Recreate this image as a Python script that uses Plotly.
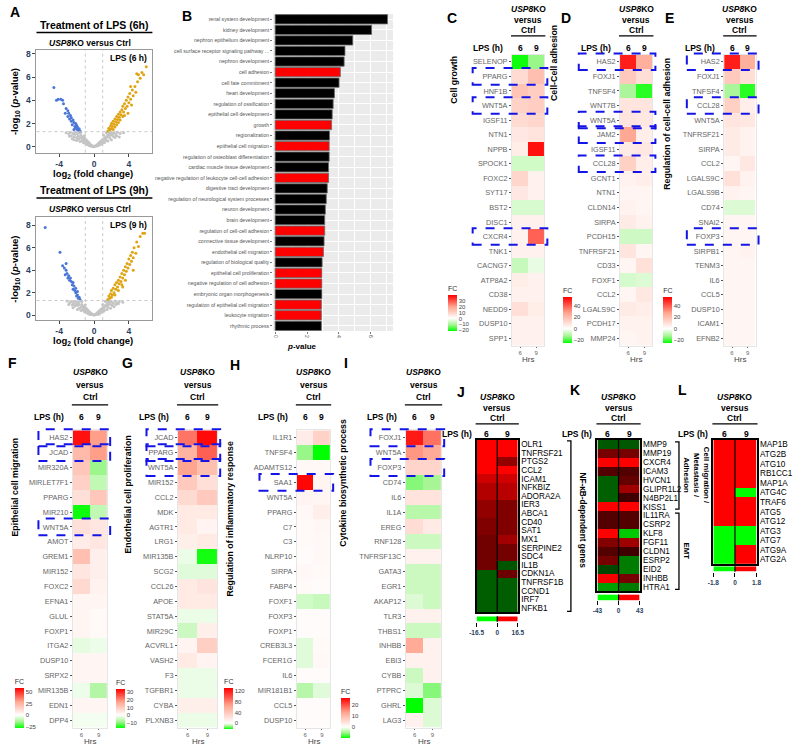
import plotly.graph_objects as go

W, H = 796, 749
FONT = "Arial, Liberation Sans, sans-serif"

# ---------------- Panel A: volcano points (log2 fold change, -log10 p) ----------------
A6_GREY = [(-3.2, 1.2), (-2.9, 1.1), (-2.7, 1.25), (-2.6, 0.95), (-2.4, 1.15), (-2.3, 0.85), (-2.2, 1.05),
           (-2.1, 1.25), (-2.0, 0.8), (-1.9, 1.1), (-1.8, 0.9), (-1.7, 1.2), (-1.6, 0.75), (-1.5, 1.0),
           (-1.4, 0.85), (-1.3, 0.65), (-1.2, 0.8), (-1.1, 0.55), (-1.0, 0.7), (-0.9, 0.45), (-0.8, 0.55),
           (-0.7, 0.35), (-0.6, 0.4), (-0.5, 0.25), (-0.4, 0.2), (-0.3, 0.12), (-0.2, 0.08), (-0.1, 0.03),
           (0.0, 0.01), (0.1, 0.04), (0.2, 0.08), (0.3, 0.14), (0.4, 0.2), (0.5, 0.28), (0.6, 0.35),
           (0.7, 0.42), (0.8, 0.5), (0.9, 0.48), (1.0, 0.62), (1.1, 0.6), (1.2, 0.72), (1.3, 0.8),
           (1.4, 0.78), (1.5, 0.95), (1.6, 0.9), (1.7, 1.05), (1.8, 1.15), (1.9, 1.0), (2.0, 1.25),
           (2.1, 1.1), (2.3, 1.2), (2.5, 1.05), (2.7, 1.25), (3.0, 1.15), (3.4, 1.2), (-2.0, 0.55),
           (-1.6, 0.45), (-1.2, 0.35), (-0.8, 0.2), (0.8, 0.22), (1.2, 0.38), (1.6, 0.5), (2.0, 0.6),
           (2.4, 0.8), (-2.5, 0.7), (1.4, 1.2), (-2.8, 0.9), (-2.3, 0.6), (-1.8, 0.65), (-1.4, 0.5),
           (-1.0, 0.3), (-0.6, 0.15), (-0.3, 0.05), (0.3, 0.06), (0.6, 0.18), (1.0, 0.33), (1.4, 0.55),
           (1.8, 0.75), (2.2, 0.9), (2.6, 0.95), (2.9, 0.85), (-1.5, 1.25), (-1.1, 0.95), (1.1, 1.0),
           (1.6, 1.25), (-0.5, 0.1), (0.5, 0.12)]
A6_DOWN = [(-1.6, 1.35), (-1.7, 1.55), (-1.8, 1.42), (-1.9, 1.7), (-1.9, 1.5), (-2.0, 1.85), (-2.1, 1.6),
           (-2.1, 2.0), (-2.2, 1.75), (-2.3, 2.1), (-2.3, 1.5), (-2.4, 2.3), (-2.5, 1.9), (-2.6, 2.5),
           (-2.6, 2.2), (-2.7, 2.7), (-2.8, 2.4), (-2.9, 2.9), (-3.0, 2.6), (-3.0, 3.1), (-3.2, 3.3),
           (-3.3, 2.9), (-3.5, 3.7), (-3.6, 4.0), (-3.8, 4.1), (-4.1, 4.1), (-4.3, 4.0), (-4.6, 5.1)]
A6_UP = [(1.6, 1.35), (1.7, 1.6), (1.8, 1.45), (1.9, 1.8), (2.0, 1.55), (2.0, 2.0), (2.1, 1.75), (2.2, 2.2),
         (2.2, 1.5), (2.3, 1.95), (2.4, 2.4), (2.4, 1.7), (2.5, 2.15), (2.6, 2.6), (2.6, 1.9), (2.7, 2.35),
         (2.8, 2.8), (2.8, 2.1), (2.9, 2.55), (3.0, 3.0), (3.0, 2.3), (3.1, 2.75), (3.2, 3.2), (3.3, 2.6),
         (3.3, 3.5), (3.4, 3.0), (3.5, 3.7), (3.5, 2.7), (3.6, 3.3), (3.7, 4.0), (3.8, 3.5), (3.9, 4.3),
         (4.0, 3.8), (4.1, 4.6), (4.2, 4.1), (4.3, 3.6), (4.4, 4.9), (4.5, 4.4), (4.7, 5.2), (4.8, 4.7),
         (5.0, 5.6), (5.1, 6.2), (5.3, 5.9), (5.5, 6.4), (5.7, 6.2), (6.0, 6.9), (4.9, 6.3), (4.2, 5.2),
         (3.9, 2.9)]
A9_GREY = [(-3.1, 1.25), (-2.8, 1.1), (-2.6, 1.2), (-2.5, 0.9), (-2.3, 1.2), (-2.2, 0.8), (-2.1, 1.0),
           (-2.0, 1.2), (-1.9, 0.85), (-1.8, 1.1), (-1.7, 0.95), (-1.6, 1.25), (-1.5, 0.7), (-1.4, 0.95),
           (-1.3, 0.8), (-1.2, 0.6), (-1.1, 0.7), (-1.0, 0.5), (-0.9, 0.6), (-0.8, 0.4), (-0.7, 0.45),
           (-0.6, 0.3), (-0.5, 0.28), (-0.4, 0.18), (-0.3, 0.14), (-0.2, 0.07), (-0.1, 0.02), (0.0, 0.01),
           (0.1, 0.03), (0.2, 0.09), (0.3, 0.13), (0.4, 0.22), (0.5, 0.25), (0.6, 0.38), (0.7, 0.4),
           (0.8, 0.52), (0.9, 0.5), (1.0, 0.65), (1.1, 0.62), (1.2, 0.75), (1.3, 0.85), (1.4, 0.8),
           (1.5, 1.0), (1.6, 0.92), (1.7, 1.1), (1.8, 1.2), (1.9, 0.95), (2.0, 1.2), (2.2, 1.05),
           (2.4, 1.25), (2.6, 1.1), (2.9, 1.2), (3.3, 1.15), (-1.9, 0.5), (-1.5, 0.4), (-1.1, 0.3),
           (-0.7, 0.15), (0.7, 0.2), (1.1, 0.35), (1.5, 0.5), (1.9, 0.62), (2.3, 0.75), (-2.4, 0.65),
           (1.3, 1.2), (-2.9, 0.95), (-2.4, 1.0), (-1.7, 0.6), (-1.3, 0.45), (-0.9, 0.25), (-0.5, 0.08),
           (0.4, 0.06), (0.8, 0.25), (1.2, 0.45), (1.6, 0.7), (2.1, 0.85), (2.5, 0.95), (2.8, 1.0),
           (-1.4, 1.2), (-1.0, 0.9), (1.0, 0.95), (1.5, 1.25), (-0.4, 0.05), (0.6, 0.1)]
A9_DOWN = [(-1.6, 1.4), (-1.7, 1.6), (-1.8, 1.5), (-1.9, 1.8), (-1.9, 2.1), (-2.0, 1.7), (-2.1, 2.0),
           (-2.1, 2.4), (-2.2, 2.2), (-2.3, 2.6), (-2.4, 2.3), (-2.4, 2.9), (-2.5, 2.7), (-2.6, 3.0),
           (-2.7, 3.3), (-2.8, 3.1), (-2.9, 3.5), (-3.0, 3.3), (-3.1, 3.7), (-3.2, 4.0), (-3.3, 3.6),
           (-3.4, 4.2), (-3.6, 4.4), (-3.9, 5.6), (-3.2, 4.6), (-5.6, 7.8)]
A9_UP = [(1.6, 1.4), (1.7, 1.7), (1.8, 1.5), (1.9, 1.9), (2.0, 1.6), (2.0, 2.2), (2.1, 1.8), (2.2, 2.4),
         (2.3, 2.0), (2.4, 2.7), (2.4, 1.8), (2.5, 2.3), (2.6, 2.9), (2.7, 2.5), (2.8, 3.1), (2.8, 2.2),
         (2.9, 2.8), (3.0, 3.4), (3.1, 3.0), (3.2, 3.7), (3.2, 2.7), (3.3, 3.3), (3.4, 4.0), (3.5, 3.6),
         (3.6, 4.3), (3.6, 3.1), (3.7, 3.9), (3.8, 4.6), (3.9, 4.2), (4.0, 5.0), (4.1, 4.5), (4.2, 5.3),
         (4.3, 4.8), (4.4, 5.6), (4.5, 5.1), (4.6, 6.0), (4.8, 5.5), (4.9, 6.5), (5.1, 6.1), (5.3, 7.0),
         (5.6, 7.3), (5.8, 7.3), (4.5, 4.0), (3.3, 2.5)]

# ---------------- Panel B: enriched GO terms ----------------
B_TERMS = ["renal system development", "kidney development", "nephron epithelium development",
           "cell surface receptor signaling pathway ...", "nephron development", "cell adhesion",
           "cell fate commitment", "heart development", "regulation of ossification",
           "epithelial cell development", "growth", "regionalization", "epithelial cell migration",
           "regulation of osteoblast differentiation", "cardiac muscle tissue development",
           "negative regulation of leukocyte cell-cell adhesion", "digestive tract development",
           "regulation of neurological system processes", "neuron development", "brain development",
           "regulation of cell-cell adhesion", "connective tissue development", "endothelial cell migration",
           "regulation of biological quality", "epithelial cell proliferation",
           "negative regulation of cell adhesion", "embryonic organ morphogenesis",
           "regulation of epithelial cell migration", "leukocyte migration", "rhythmic process"]
B_SCORE = [7.05, 6.05, 4.87, 4.38, 4.33, 4.09, 4.01, 3.72, 3.64, 3.58, 3.54, 3.41, 3.39, 3.39, 3.35,
           3.35, 3.27, 3.21, 3.15, 3.11, 3.11, 3.07, 3.03, 2.95, 2.93, 2.93, 2.93, 2.9, 2.9, 2.9]
B_HIGHLIGHT = ["cell adhesion", "growth", "epithelial cell migration",
               "negative regulation of leukocyte cell-cell adhesion", "regulation of cell-cell adhesion",
               "endothelial cell migration", "epithelial cell proliferation",
               "negative regulation of cell adhesion", "regulation of epithelial cell migration",
               "leukocyte migration"]

# ---------------- Panels C-I: fold change heatmaps (6 h, 9 h) ----------------
HOURS = ["6", "9"]

C_GENES = ["SELENOP", "PPARG", "HNF1B", "WNT5A", "IGSF11", "NTN1", "NPPB", "SPOCK1", "FOXC2", "SYT17",
           "BST2", "DISC1", "CXCR4", "TNK1", "CACNG7", "ATP8A2", "CD38", "NEDD9", "DUSP10", "SPP1"]
C_FC6 = [-21, 8, 13, 10, 8, 5, 4, -6, 9, 5, -5, 3, 3, 3, -7, 4, 3, 7, 3, 3]
C_FC9 = [-12, 14, 11, 11, 9, 6, 38, -6, 3, 3, -5, 3, 28, 3, -3, 3, 3, 4, 3, 3]
C_BOXED = ["PPARG", "WNT5A", "CXCR4"]

D_GENES = ["HAS2", "FOXJ1", "TNFSF4", "WNT7B", "WNT5A", "JAM2", "IGSF11", "CCL28", "GCNT1", "NTN1",
           "CLDN14", "SIRPA", "PCDH15", "TNFRSF21", "CD33", "FOXF1", "CCL2", "LGALS9C", "PCDH17", "MMP24"]
D_FC6 = [50, 16, -12, 8, 8, 26, 6, 14, 4, 3, 4, 6, -7, 8, 3, -6, 3, 6, 4, 3]
D_FC9 = [24, 10, -22, 8, 7, 5, 7, 5, 5, 3, 3, 4, -7, 3, 9, -5, 7, 5, 4, 4]
D_BOXED = ["HAS2", "WNT5A", "JAM2", "CCL28"]

E_GENES = ["HAS2", "FOXJ1", "TNFSF4", "CCL28", "WNT5A", "TNFRSF21", "SIRPA", "CCL2", "LGALS9C", "LGALS9B",
           "CD74", "SNAI2", "FOXP3", "SIRPB1", "TENM3", "IL6", "CCL5", "DUSP10", "ICAM1", "EFNB2"]
E_FC6 = [50, 16, -12, 14, 8, 6, 6, 3, 9, 4, -5, 3, 3, 3, 3, 3, 3, 3, 3, 3]
E_FC9 = [24, 10, -22, 5, 7, 4, 4, 7, 4, 3, -5, 3, 3, 4, 3, 3, 3, 3, 3, 3]
E_BOXED = ["HAS2", "CCL28", "FOXP3"]

F_GENES = ["HAS2", "JCAD", "MIR320A", "MIRLET7F1", "PPARG", "MIR210", "WNT5A", "AMOT", "GREM1", "MIR152",
           "FOXC2", "EFNA1", "GLUL", "FOXP1", "ITGA2", "DUSP10", "SRPX2", "MIR135B", "EDN1", "DPP4"]
F_FC6 = [55, 22, 18, 15, 10, -27, 10, 6, 20, 8, 12, 3, 3, 3, -4, 3, 3, -3, 3, -2]
F_FC9 = [30, 30, -15, -10, 18, -10, 8, 8, 5, 5, 4, 3, 2, 2, -3, 3, 3, -12, 3, -2]
F_BOXED = ["HAS2", "JCAD", "WNT5A"]

G_GENES = ["JCAD", "PPARG", "WNT5A", "MIR152", "CCL2", "MDK", "AGTR1", "LRG1", "MIR135B", "SCG2", "CCL26",
           "APOE", "STAT5A", "MIR29C", "ACVRL1", "VASH2", "F3", "TGFBR1", "CYBA", "PLXNB3"]
G_FC6 = [22, 14, 17, 10, 7, 4, 4, 3, -2, -3, 4, 4, -2, -5, 2, 4, -2, -2, 3, -2]
G_FC9 = [33, 24, 12, 6, 10, 4, 2, 4, -16, -3, 5, 4, -2, 3, 9, 2, -2, -2, 3, -2]
G_BOXED = ["JCAD", "PPARG", "WNT5A"]

H_GENES = ["IL1R1", "TNFSF4", "ADAMTS12", "SAA1", "WNT5A", "PPARG", "C7", "C3", "NLRP10", "SIRPA", "FABP4",
           "FOXF1", "FOXP3", "FOXP1", "CREB3L3", "FCER1G", "IL6", "MIR181B1", "CCL5", "DUSP10"]
H_FC6 = [14, -12, 5, 128, 8, 5, 4, 4, 3, 5, 4, -6, 3, 3, -4, -4, 3, -9, 3, 3]
H_FC9 = [32, -22, 5, 8, 7, 12, 6, 5, 5, 4, 3, -7, 3, 3, 4, 5, 3, -4, 3, 3]
H_BOXED = ["SAA1"]

I_GENES = ["FOXJ1", "WNT5A", "FOXP3", "CD74", "IL6", "IL1A", "EREG", "RNF128", "TNFRSF13C", "GATA3", "EGR1",
           "AKAP12", "TLR3", "THBS1", "INHBB", "EBI3", "CYBB", "PTPRC", "GHRL", "LAG3"]
I_FC6 = [24, 14, 6, -6, 4, -4, 5, -3, 2, -3, -3, -2, 2, -3, 12, 2, -3, -2, -10, 2]
I_FC9 = [17, 12, 6, -5, 4, -4, 3, -3, 2, -3, -3, -3, 2, -3, 2, 2, 2, -6, -2, -2]
I_BOXED = ["FOXJ1", "FOXP3"]

# ---------------- Panels J-L: microarray style heatmaps ----------------
J_GENES = ["OLR1", "TNFRSF21", "PTGS2", "CCL2", "ICAM1", "NFKBIZ", "ADORA2A", "IER3", "ABCA1", "CD40",
           "SAT1", "MX1", "SERPINE2", "SDC4", "IL1B", "CDKN1A", "TNFRSF1B", "CCND1", "IRF7", "NFKB1"]
J_FC6 = [16.5, 16.5, 16.5, 16.5, 13.5, 11.5, 11.5, 9.5, 9.5, 8.3, 8.3, 7.3, 7.3, 7.3, 7.3, -6, -6, -6, -6, -6]
J_FC9 = [16.5, 16.5, 9.5, 16.5, 13.5, 12, 12, 8.3, 8.3, 8.3, 8.3, 10.5, 7.5, 7.5, -5.5, 7, -6, -6, -6, -6]
J_LIMIT = 16.5

K_GENES = ["MMP9", "MMP19", "CXCR4", "ICAM3", "HVCN1", "GLIPR1L2", "N4BP2L1", "KISS1", "IL11RA", "CSRP2",
           "KLF8", "FGF11", "CLDN1", "ESRP2", "EID2", "INHBB", "HTRA1"]
K_FC6 = [-15, 20, 43, 14, -16, -16, -16, 43, 14, 14, 43, 22, 14, 20, -12, 42, -27]
K_FC9 = [-15, 20, 43, 14, 17, 27, 11, 43, 14, 14, -34, 27, 11, -21, -21, 20, -21]
K_LIMIT = 43
K_GROUPS = [("Cell migration /<br>Metastasis /<br>Adhesion", 0, 7), ("EMT", 8, 16)]

L_GENES = ["MAP1B", "ATG2B", "ATG10", "RB1CC1", "MAP1A", "ATG4C", "TRAF6", "ATG5", "ATG12", "ATG3", "ATG7",
           "ATG9A", "ATG2A"]
L_FC6 = [1.8, 1.8, 1.8, 1.8, 1.8, 1.8, 1.8, 1.8, 1.8, -1.8, -1.8, -1.8, -1.8]
L_FC9 = [1.8, 1.8, 1.8, 1.8, 1.8, -1.8, 1.8, 1.8, 1.8, -1.8, -1.8, 1.8, 1.8]
L_LIMIT = 1.8


def fx(x):
    return x / W


def fy(y):
    return 1 - y / H


def ax(n):
    # plotly names the first axis pair "x"/"y", not "x1"/"y1"
    return ("x", "y") if n == 1 else ("x%d" % n, "y%d" % n)


fig = go.Figure()
layout = {}
annotations = []
shapes = []


def text(x, y, s, size=9, color="black", angle=0, xanchor="center", yanchor="middle"):
    annotations.append(dict(x=fx(x), y=fy(y), xref="paper", yref="paper", text=s, showarrow=False,
                            textangle=angle, xanchor=xanchor, yanchor=yanchor,
                            font=dict(size=size, color=color, family=FONT)))


def hline(x0, x1, y, width=1.5, color="black"):
    shapes.append(dict(type="line", xref="paper", yref="paper", x0=fx(x0), x1=fx(x1), y0=fy(y), y1=fy(y),
                       line=dict(color=color, width=width)))


USP8 = "<b><i>USP8</i>KO</b>"


# ---------------- A: volcano plots ----------------
def volcano(n, grey, down, up, top, bottom, yrange, label):
    xa, ya = ax(n)
    for pts, col in ((grey, "#c4c4c4"), (down, "#4a76d6"), (up, "#dfa414")):
        fig.add_trace(go.Scatter(x=[p[0] for p in pts], y=[p[1] for p in pts], mode="markers",
                                 marker=dict(size=3, color=col), xaxis=xa, yaxis=ya, hoverinfo="skip"))
    key = "" if n == 1 else str(n)
    layout["xaxis" + key] = dict(domain=[fx(30), fx(148)], anchor=ya, range=[-6.6, 6.7], tickvals=[-4, 0, 4],
                                 ticktext=["<b>-4</b>", "<b>0</b>", "<b>4</b>"], ticks="outside", ticklen=3,
                                 tickfont=dict(size=8.5, family=FONT), showline=True, mirror=True,
                                 linecolor="#999", zeroline=False, showgrid=False)
    layout["yaxis" + key] = dict(domain=[fy(bottom), fy(top)], anchor=xa, range=yrange, tickvals=[0, 2, 4, 6, 8],
                                 ticktext=["<b>%d</b>" % v for v in (0, 2, 4, 6, 8)], ticks="outside", ticklen=3,
                                 tickfont=dict(size=8.5, family=FONT), showline=True, mirror=True,
                                 linecolor="#999", zeroline=False, showgrid=False)
    for xv in (-1, 1):
        shapes.append(dict(type="line", xref=xa, yref=ya + " domain", x0=xv, x1=xv, y0=0, y1=1,
                           line=dict(color="#c8c8c8", width=1, dash="dot")))
    shapes.append(dict(type="line", xref=xa + " domain", yref=ya, x0=0, x1=1, y0=1.3, y1=1.3,
                       line=dict(color="#c8c8c8", width=1, dash="dot")))
    text(145, top + 8, "<b>%s</b>" % label, size=8.5, xanchor="right")
    text(88, bottom + 21, "<b>log<sub>2</sub> (fold change)</b>", size=9.5)
    text(8, (top + bottom) / 2, "<b>-log<sub>10</sub> (<i>p</i>-value)</b>", size=9.5, angle=-90)


volcano(1, A6_GREY, A6_DOWN, A6_UP, 49, 152, [-0.5, 8.35], "LPS (6 h)")
volcano(2, A9_GREY, A9_DOWN, A9_UP, 217, 320, [-0.45, 8.7], "LPS (9 h)")
text(89, 24, "<b>Treatment of LPS (6h)</b>", size=10.5)
hline(30, 148, 31.5)
text(84, 42, USP8 + "<b> versus Ctrl</b>", size=8.5)
text(89, 190, "<b>Treatment of LPS (9h)</b>", size=10.5)
hline(30, 148, 197.5)
text(84, 209, USP8 + "<b> versus Ctrl</b>", size=8.5)
text(8, 11, "<b>A</b>", size=14)

# ---------------- B: GO bar chart ----------------
fig.add_trace(go.Bar(y=B_TERMS, x=B_SCORE, orientation="h", xaxis="x3", yaxis="y3",
                     marker=dict(color=["#ff0000" if t in B_HIGHLIGHT else "#000000" for t in B_TERMS],
                                 line=dict(color="#6a6a6a", width=0.8)), hoverinfo="skip"))
layout["xaxis3"] = dict(domain=[fx(271), fx(393)], anchor="y3", range=[-0.12, 7.4], tickvals=[0, 2, 4, 6],
                        tickangle=90, tickfont=dict(size=5, color="#555", family=FONT), ticks="outside",
                        ticklen=2, tickcolor="#777", showgrid=True, gridcolor="white", gridwidth=1.2,
                        minor=dict(dtick=1, showgrid=True, gridcolor="white", gridwidth=0.6), zeroline=False)
layout["yaxis3"] = dict(domain=[fy(331), fy(13)], anchor="x3", type="category", autorange="reversed",
                        tickmode="array", tickvals=B_TERMS,
                        tickfont=dict(size=5.2, color="#555", family=FONT), ticks="outside", ticklen=2,
                        tickcolor="#777", showgrid=True, gridcolor="white")
shapes.append(dict(type="rect", xref="x3 domain", yref="y3 domain", x0=0, x1=1, y0=0, y1=1, layer="below",
                   fillcolor="#ebebeb", line=dict(width=0)))
text(300, 346, "<b><i>p</i>-value</b>", size=8)
text(183, 15, "<b>B</b>", size=14)


# ---------------- C-I: FC heatmaps ----------------
def fc_scale(zmin, zmax):
    p = -zmin / (zmax - zmin)
    return [[0, "#00ff00"], [p / 2, "#a8f596"], [p, "#ffffff"], [p + (1 - p) / 2, "#ffa48e"], [1, "#ff0000"]]


def fc_panel(n, genes, fc6, fc9, zlim, cticks, boxed, ytitle, g):
    xa, ya = ax(n)
    zmin, zmax = zlim
    top, row = g["top"], g["row"]
    bottom = top + row * len(genes)
    fig.add_trace(go.Heatmap(
        x=HOURS, y=genes, z=[[a, b] for a, b in zip(fc6, fc9)], zmin=zmin, zmax=zmax,
        colorscale=fc_scale(zmin, zmax), xaxis=xa, yaxis=ya, hoverinfo="skip",
        colorbar=dict(x=fx(g["cb"][0]), xanchor="left", y=fy(g["cb"][1]), yanchor="top",
                      len=g["cb"][2] - g["cb"][1], lenmode="pixels", thickness=9, xpad=0, ypad=0,
                      outlinewidth=0, tickvals=cticks, ticks="",
                      tickfont=dict(size=6, color="#444", family=FONT),
                      title=dict(text="FC", side="top", font=dict(size=7, color="#333", family=FONT)))))
    layout["xaxis%d" % n] = dict(domain=[fx(g["hx"][0]), fx(g["hx"][1])], anchor=ya, type="category",
                                 tickfont=dict(size=6, color="#666", family=FONT), ticks="outside",
                                 ticklen=1, tickcolor="#666", showline=True, mirror=True, linecolor="#e6e6e6")
    layout["yaxis%d" % n] = dict(domain=[fy(bottom), fy(top)], anchor=xa, type="category", autorange="reversed",
                                 tickmode="array", tickvals=genes,
                                 tickfont=dict(size=7.3, color="#666", family=FONT), ticks="outside",
                                 ticklen=2, tickcolor="#555", showline=True, mirror=True, linecolor="#e6e6e6")
    hx0, hx1 = g["hx"]
    cx = (hx0 + hx1) / 2
    h = g["hdr"]
    text(cx, h[0], USP8, size=8.5)
    text(cx, h[1], "<b>versus</b>", size=8.5)
    text(cx, h[2], "<b>Ctrl</b>", size=8.5)
    hline(hx0 - 1, hx1 + 1, h[3], width=1.3)
    text(hx0 - 7, h[4], "<b>LPS (h)</b>", size=8.5, xanchor="right")
    text(hx0 + (hx1 - hx0) * 0.25, h[4], "<b>6</b>", size=8.5)
    text(hx0 + (hx1 - hx0) * 0.75, h[4], "<b>9</b>", size=8.5)
    text(cx, bottom + 14, "Hrs", size=8, color="#444")
    text(g["title"][0], g["title"][1], "<b>%s</b>" % ytitle, size=8.8, angle=-90)
    text(g["letter"][0], g["letter"][1], "<b>%s</b>" % g["name"], size=14)
    for gene in boxed:
        i = genes.index(gene)
        shapes.append(dict(type="rect", xref="paper", yref="paper", x0=fx(g["box"]), x1=fx(hx1 + 3),
                           y0=fy(top + (i + 1) * row + 1), y1=fy(top + i * row - 1),
                           line=dict(color="#1414e6", width=2, dash="dash")))


TOP = dict(top=53.7, row=14.6, hdr=[8, 19, 29, 35, 47])
BOT = dict(top=430.5, row=14.9, hdr=[372, 385, 397, 405, 417])

fc_panel(4, C_GENES, C_FC6, C_FC9, (-22, 40), [30, 20, 10, 0, -10, -20], C_BOXED, "Cell growth",
         dict(TOP, hx=(514, 547), cb=(449, 283, 331), title=(455, 79), letter=(453, 17), name="C", box=474))
fc_panel(5, D_GENES, D_FC6, D_FC9, (-25, 55), [40, 20, 0, -20], D_BOXED, "Cell-Cell adhesion",
         dict(TOP, hx=(624, 657), cb=(566, 285, 343), title=(557, 62), letter=(569, 17), name="D", box=582))
fc_panel(6, E_GENES, E_FC6, E_FC9, (-25, 55), [40, 20, 0, -20], E_BOXED, "Regulation of cell-cell adhesion",
         dict(TOP, hx=(730, 762), cb=(668, 285, 343), title=(671, 123), letter=(674, 17), name="E", box=692))
fc_panel(7, F_GENES, F_FC6, F_FC9, (-28, 58), [50, 25, 0, -25], F_BOXED, "Epithelial cell migration",
         dict(BOT, hx=(67, 102), cb=(8, 677, 729), title=(8, 487), letter=(6, 363), name="F", box=32))
fc_panel(8, G_GENES, G_FC6, G_FC9, (-17, 34), [30, 20, 10, 0, -10], G_BOXED, "Endothelial cell proliferation",
         dict(BOT, hx=(174, 214), cb=(111, 678, 729), title=(123, 495), letter=(123, 363), name="G", box=142))
fc_panel(9, H_GENES, H_FC6, H_FC9, (-22, 130), [120, 80, 40, 0], H_BOXED, "Regulation of inflammatory response",
         dict(BOT, hx=(295, 329), cb=(221, 677, 730), title=(227, 519), letter=(232, 365), name="H", box=257))
fc_panel(10, I_GENES, I_FC6, I_FC9, (-10, 26), [20, 10, 0], I_BOXED, "Cytokine biosynthetic process",
         dict(BOT, hx=(406, 442), cb=(340, 687, 739), title=(342, 483), letter=(345, 363), name="I", box=370))


# ---------------- J-L: green-black-red heatmaps ----------------
def gbr_panel(n, cbn, genes, fc6, fc9, limit, g):
    xa, ya = ax(n)
    top, row = g["top"], g["row"]
    bottom = top + row * len(genes)
    hx0, hx1 = g["hx"]
    fig.add_trace(go.Heatmap(x=HOURS, y=genes, z=[[a, b] for a, b in zip(fc6, fc9)], zmin=-limit, zmax=limit,
                             colorscale=[[0, "#00ff00"], [0.5, "#000000"], [1, "#ff0000"]], showscale=False,
                             xaxis=xa, yaxis=ya, hoverinfo="skip"))
    layout["xaxis%d" % n] = dict(domain=[fx(hx0), fx(hx1)], anchor=ya, type="category", showticklabels=False,
                                 ticks="", showline=True, mirror=True, linecolor="black", linewidth=1.5)
    layout["yaxis%d" % n] = dict(domain=[fy(bottom), fy(top)], anchor=xa, type="category", autorange="reversed",
                                 tickmode="array", tickvals=genes, side="right", ticks="",
                                 tickfont=dict(size=8.2, color="black", family=FONT),
                                 showline=True, mirror=True, linecolor="black", linewidth=1.5)
    shapes.append(dict(type="line", xref=xa, yref=ya + " domain", x0=0.5, x1=0.5, y0=0, y1=1,
                       line=dict(color="black", width=1.2)))
    # two-colour key under the heatmap
    cxa, cya = ax(cbn)
    gap, hgt = g["cb"]
    fig.add_trace(go.Heatmap(x=[-limit / 2, limit / 2], y=[0], z=[[-limit, limit]], zmin=-limit, zmax=limit,
                             colorscale=[[0, "#00ff00"], [0.5, "#00ff00"], [0.5, "#ff0000"], [1, "#ff0000"]],
                             showscale=False, xaxis=cxa, yaxis=cya, hoverinfo="skip"))
    layout["xaxis%d" % cbn] = dict(domain=[fx(hx0), fx(hx1)], anchor=cya, range=[-limit, limit],
                                   tickvals=[-limit, 0, limit], ticktext=["<b>%g</b>" % -limit, "<b>0</b>",
                                                                          "<b>%g</b>" % limit],
                                   ticks="outside", ticklen=4, tickwidth=1, tickcolor="black",
                                   tickfont=dict(size=6.5, family=FONT), showgrid=False, zeroline=False)
    layout["yaxis%d" % cbn] = dict(domain=[fy(bottom + gap + hgt), fy(bottom + gap)], anchor=cxa,
                                   range=[-0.5, 0.5], showticklabels=False, ticks="", showgrid=False,
                                   zeroline=False)
    shapes.append(dict(type="line", xref=cxa, yref=cya + " domain", x0=0, x1=0, y0=0, y1=1,
                       line=dict(color="black", width=1.2)))
    cx = (hx0 + hx1) / 2
    text(cx, 397, USP8, size=8.5)
    text(cx, 408, "<b>versus</b>", size=8.5)
    text(cx, 418, "<b>Ctrl</b>", size=8.5)
    hline(hx0 - 1, hx1 + 1, 424, width=1.3)
    text(hx0 - 3, 434, "<b>LPS (h)</b>", size=8.5, xanchor="right")
    text(hx0 + (hx1 - hx0) * 0.25, 434, "<b>6</b>", size=8.5)
    text(hx0 + (hx1 - hx0) * 0.76, 434, "<b>9</b>", size=8.5)
    text(g["letter"][0], g["letter"][1], "<b>%s</b>" % g["name"], size=14)
    return top, row


def bracket(x, y0, y1):
    shapes.append(dict(type="path", xref="paper", yref="paper",
                       path="M %f,%f L %f,%f L %f,%f L %f,%f" % (fx(x - 4), fy(y0), fx(x), fy(y0), fx(x), fy(y1),
                                                              fx(x - 4), fy(y1)),
                       line=dict(color="black", width=1.3)))


top, row = gbr_panel(11, 14, J_GENES, J_FC6, J_FC9, J_LIMIT,
                     dict(hx=(478, 520), top=440, row=8.65, cb=(4, 5.5), letter=(462, 392), name="J"))
bracket(574, top + 1, top + row * len(J_GENES) - 1)
text(586, top + row * len(J_GENES) / 2 - 6, "<b>NF-\u03baB-dependent genes</b>", size=8.3, angle=90)

top, row = gbr_panel(12, 15, K_GENES, K_FC6, K_FC9, K_LIMIT,
                     dict(hx=(601, 644), top=440, row=8.94, cb=(3, 6), letter=(578, 390), name="K"))
for label, r0, r1 in K_GROUPS:
    nlines = label.count("<br>") + 1
    bracket(684, top + r0 * row + 2, top + (r1 + 1) * row - 2)
    text(692 + (nlines - 1) * 5, top + (r0 + r1 + 1) * row / 2, "<b>%s</b>" % label, size=7.8, angle=90)

gbr_panel(13, 16, L_GENES, L_FC6, L_FC9, L_LIMIT,
          dict(hx=(719, 763), top=440, row=9.6, cb=(2, 5.5), letter=(688, 390), name="L"))

fig.update_layout(**layout)
fig.update_layout(width=W, height=H, margin=dict(l=0, r=0, t=0, b=0), showlegend=False,
                  paper_bgcolor="white", plot_bgcolor="white", annotations=annotations, shapes=shapes,
                  font=dict(family=FONT), bargap=0.12)
# drop the default 8px page margin so the figure sits at the window origin
fig.write_html("out.html", config={"displayModeBar": False},
               post_script="document.body.style.margin='0';")
